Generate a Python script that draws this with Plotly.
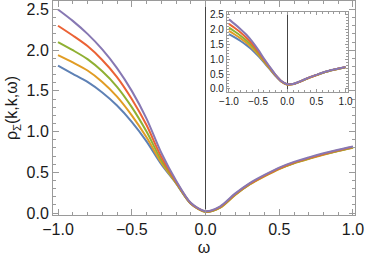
import plotly.graph_objects as go

# ---- data ----
omega = [-1.0, -0.9, -0.8, -0.7, -0.6, -0.5, -0.4, -0.3, -0.2, -0.1, 0.0,
         0.1, 0.2, 0.3, 0.4, 0.5, 0.6, 0.7, 0.8, 0.9, 1.0]

main_blue   = [1.81, 1.71, 1.61, 1.48, 1.32, 1.12, 0.88, 0.60, 0.365, 0.115, 0.015,
               0.070, 0.225, 0.355, 0.455, 0.545, 0.615, 0.670, 0.720, 0.765, 0.805]
main_orange = [1.94, 1.85, 1.75, 1.61, 1.43, 1.20, 0.93, 0.62, 0.370, 0.115, 0.013,
               0.065, 0.220, 0.350, 0.450, 0.540, 0.610, 0.665, 0.715, 0.760, 0.800]
main_green  = [2.10, 2.00, 1.89, 1.74, 1.55, 1.30, 1.00, 0.65, 0.375, 0.118, 0.016,
               0.070, 0.225, 0.355, 0.455, 0.545, 0.615, 0.670, 0.720, 0.765, 0.805]
main_red    = [2.30, 2.18, 2.05, 1.88, 1.67, 1.40, 1.08, 0.69, 0.385, 0.120, 0.018,
               0.075, 0.230, 0.360, 0.460, 0.550, 0.620, 0.675, 0.725, 0.770, 0.810]
main_purple = [2.50, 2.36, 2.20, 2.01, 1.78, 1.50, 1.16, 0.74, 0.400, 0.125, 0.022,
               0.082, 0.238, 0.368, 0.468, 0.558, 0.628, 0.683, 0.733, 0.778, 0.818]

inset_blue   = [1.85, 1.74, 1.62, 1.48, 1.32, 1.12, 0.90, 0.67, 0.44, 0.25, 0.155,
                0.165, 0.235, 0.320, 0.400, 0.470, 0.540, 0.600, 0.650, 0.695, 0.735]
inset_orange = [1.96, 1.84, 1.71, 1.56, 1.38, 1.17, 0.93, 0.69, 0.45, 0.25, 0.152,
                0.162, 0.232, 0.317, 0.397, 0.467, 0.537, 0.597, 0.647, 0.692, 0.732]
inset_green  = [2.07, 1.94, 1.80, 1.64, 1.45, 1.22, 0.96, 0.71, 0.46, 0.26, 0.155,
                0.165, 0.235, 0.320, 0.400, 0.470, 0.540, 0.600, 0.650, 0.695, 0.735]
inset_red    = [2.20, 2.06, 1.91, 1.73, 1.52, 1.27, 0.99, 0.73, 0.47, 0.26, 0.158,
                0.168, 0.238, 0.323, 0.403, 0.473, 0.543, 0.603, 0.653, 0.698, 0.738]
inset_purple = [2.35, 2.19, 2.02, 1.83, 1.60, 1.33, 1.03, 0.75, 0.48, 0.27, 0.162,
                0.172, 0.243, 0.328, 0.408, 0.478, 0.548, 0.608, 0.658, 0.703, 0.743]

colors = ["#5E81B5", "#E19C24", "#8FB032", "#EB6235", "#8778B3"]
main_series = [main_blue, main_orange, main_green, main_red, main_purple]
inset_series = [inset_blue, inset_orange, inset_green, inset_red, inset_purple]

x_ticks = [-1.0, -0.5, 0.0, 0.5, 1.0]
y_ticks = [0.0, 0.5, 1.0, 1.5, 2.0, 2.5]
x_ticktext = ["\u22121.0", "\u22120.5", "0.0", "0.5", "1.0"]
y_ticktext = ["0.0", "0.5", "1.0", "1.5", "2.0", "2.5"]

FONT = "Liberation Sans, Arial, sans-serif"
FRAME = "#9a9a9a"

fig = go.Figure()
for ys, c in zip(main_series, colors):
    fig.add_trace(go.Scatter(x=omega, y=ys, mode="lines",
                             line=dict(color=c, width=2, shape="spline", smoothing=0.8),
                             xaxis="x", yaxis="y", showlegend=False, hoverinfo="skip"))
for ys, c in zip(inset_series, colors):
    fig.add_trace(go.Scatter(x=omega, y=ys, mode="lines",
                             line=dict(color=c, width=2, shape="spline", smoothing=0.8),
                             xaxis="x2", yaxis="y2", showlegend=False, hoverinfo="skip"))

def ax(**kw):
    base = dict(showgrid=False, showline=True, linecolor=FRAME, linewidth=1,
                mirror="ticks", ticks="inside", tickcolor=FRAME,
                zeroline=False, automargin=False)
    base.update(kw)
    return base

fig.update_layout(
    width=366, height=262,
    margin=dict(l=53, r=11, t=1, b=47),
    paper_bgcolor="white", plot_bgcolor="white",
    font=dict(family=FONT, color="#1a1a1a", size=16),
    xaxis=ax(range=[-1.034, 1.0136], tickvals=x_ticks, ticktext=x_ticktext,
             ticklen=6, tickfont=dict(size=16),
             minor=dict(dtick=0.1, tick0=0, ticks="inside", ticklen=3, tickcolor=FRAME),
             zeroline=True, zerolinecolor="#444444", zerolinewidth=1,
             title=dict(text="\u03c9", font=dict(size=16), standoff=4)),
    yaxis=ax(range=[-0.0246, 2.604], tickvals=y_ticks, ticktext=y_ticktext,
             ticklen=6, tickfont=dict(size=16),
             minor=dict(dtick=0.1, tick0=0, ticks="inside", ticklen=3, tickcolor=FRAME),
             title=dict(text="\u03c1<sub>\u03a3</sub>(k,k,\u03c9)", font=dict(size=16), standoff=4)),
    xaxis2=ax(domain=[0.576, 0.977], anchor="y2", range=[-1.034, 1.043],
              tickvals=x_ticks, ticktext=x_ticktext, ticklen=3,
              tickfont=dict(size=10),
              minor=dict(dtick=0.1, tick0=0, ticks="inside", ticklen=2, tickcolor=FRAME),
              zeroline=True, zerolinecolor="#444444", zerolinewidth=1),
    yaxis2=ax(domain=[0.575, 0.9486], anchor="x2", range=[-0.1, 2.6],
              tickvals=y_ticks, ticktext=y_ticktext, ticklen=3,
              tickfont=dict(size=10),
              minor=dict(dtick=0.1, tick0=0, ticks="inside", ticklen=2, tickcolor=FRAME)),
)

fig.write_html("out.html",
               config={"displayModeBar": False, "staticPlot": True},
               post_script="document.body.style.margin='0';document.body.style.padding='0';document.body.style.overflow='hidden';")
